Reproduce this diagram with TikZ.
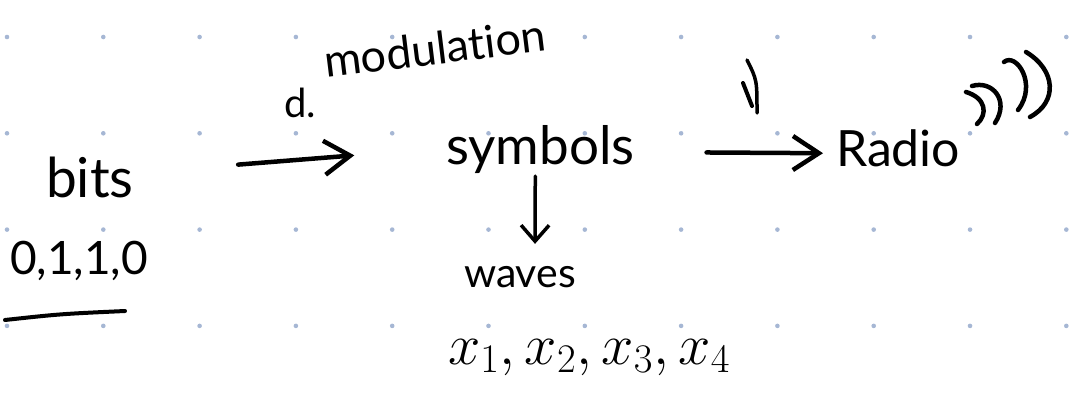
\RequirePackage{fix-cm}
\documentclass[tikz,border=0pt]{standalone}
\usepackage{fontspec}
\setmainfont{Lato}[Ligatures=CommonOff]
\usetikzlibrary{arrows.meta}
\definecolor{dotc}{RGB}{166,183,212}
\definecolor{ink}{RGB}{0,0,0}
\tikzset{
  hw/.style={inner sep=0pt, outer sep=0pt, text=ink},
  pen/.style={draw=ink, line width=4.5pt, line cap=round, line join=round},
  bigarrow/.style={pen, -{Straight Barb[length=26pt,width=34pt,line width=4.5pt]}},
  smallarrow/.style={pen, line width=3.5pt, -{Straight Barb[length=16pt,width=28pt,line width=3.5pt]}},
  griddot/.style={fill=dotc, draw=none}
}
\begin{document}
\begin{tikzpicture}[x=1pt,y=-1pt]
\useasboundingbox (0,0) rectangle (1070,398);
% dot grid
\foreach \i in {0,...,11} {
  \foreach \j in {0,...,3} {
    \fill[griddot] ({7+96.3*\i},{37+96.3*\j}) circle (2.3pt);
  }
}
% texts
\node[hw, anchor=base west, font=\fontsize{55}{55}\selectfont] (bits) at (46,197) {bits};
\node[hw, anchor=base west, font=\fontsize{46}{46}\selectfont] (bitsval) at (10,274) {0,1,1,0};
\node[hw, anchor=base west, font=\fontsize{53}{53}\selectfont] (symbols) at (446,165) {symbols};
\node[hw, anchor=base west, font=\fontsize{41}{41}\selectfont] (waves) at (464,287) {waves};
\node[hw, anchor=base west, font=\fontsize{58}{58}\selectfont] (xs) at (448,364) {$x_1, x_2, x_3, x_4$};
\node[hw, anchor=base west, font=\fontsize{50}{50}\selectfont] (radio) at (836,167) {Radio};
\node[hw, anchor=base west, rotate=7, font=\fontsize{45}{45}\selectfont] (modul) at (326,78) {modulation};
\node[hw, anchor=base west, font=\fontsize{40}{40}\selectfont] (dmark) at (284,118) {d.};
% underline
\draw[pen, line width=4pt] (5,320) .. controls (60,314) .. (125,311);
% arrows
\draw[bigarrow, shorten <=105pt, shorten >=92pt] ([yshift=4pt]bits.east) -- ([yshift=2pt]symbols.west);
\draw[bigarrow, shorten <=72pt, shorten >=13pt] ([yshift=-2pt]symbols.east) -- ([yshift=-4.5pt]radio.west);
\draw[smallarrow, shorten <=2pt, shorten >=22pt] ([xshift=-5pt]symbols.south) -- ([xshift=15pt]waves.north);
% small mark above second arrow
\draw[pen, line width=3.5pt] (747,60) .. controls (757,80) .. (757,113);
\draw[pen, line width=4pt] (743,83) -- (752,106);
% radio waves
\draw[pen] (966,92) .. controls (986,98) and (988,114) .. (977,124);
\draw[pen] (972,86) .. controls (992,80) and (1010,100) .. (995,123);
\draw[pen] (1004,62) .. controls (1016,52) and (1038,84) .. (1018,110);
\draw[pen] (1026,52) .. controls (1056,70) and (1058,102) .. (1030,117);
\end{tikzpicture}
\end{document}
